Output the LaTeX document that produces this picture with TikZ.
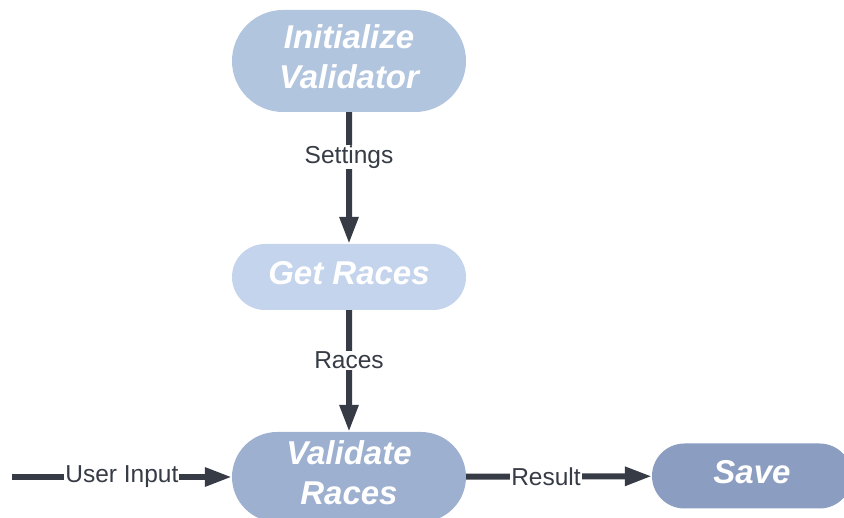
\documentclass[tikz,border=0pt]{standalone}
\usepackage{fontspec}
\setmainfont{Liberation Sans}
\usetikzlibrary{shapes.misc,arrows.meta}

\definecolor{initblue}{HTML}{B2C5DF}
\definecolor{getblue}{HTML}{C4D4EC}
\definecolor{valblue}{HTML}{9EB0CF}
\definecolor{saveblue}{HTML}{8B9DC0}
\definecolor{flowdark}{HTML}{363B45}

\tikzset{
  stepnode/.style={rounded rectangle, draw=none, text=white, align=center,
    minimum width=234pt, inner sep=0pt, text depth=9pt,
    font=\fontsize{33}{40}\selectfont\bfseries\itshape},
  flow/.style={line width=6pt, draw=flowdark,
    -{Triangle[length=27pt,width=18pt]}},
  flowlabel/.style={fill=white, text=flowdark, inner sep=1pt,
    font=\fontsize{24.5}{29}\selectfont}
}

\begin{document}
\begin{tikzpicture}[x=1pt,y=-1pt]
\useasboundingbox (0,0) rectangle (844,518);
\clip (0,0) rectangle (844,518);

\node[stepnode, fill=initblue, minimum height=102pt] (init) at (349,61) {Initialize\\Validator};
\node[stepnode, fill=getblue, minimum height=66pt] (get) at (349,277) {Get Races};
\node[stepnode, fill=valblue, minimum height=90pt] (validate) at (349,477) {Validate\\Races};
\node[stepnode, fill=saveblue, minimum height=65pt, minimum width=200pt] (save) at (752,476) {Save};
\coordinate (user) at (12,477);

\draw[flow] (init) -- node[flowlabel, pos=0.34] (settings) {Settings} (get);
\draw[flow] (get) -- node[flowlabel, pos=0.41] (races) {Races} (validate);
\draw[flow] (user) -- node[flowlabel] (input) {User Input} (validate);
\draw[flow] (validate) -- node[flowlabel, pos=0.43] (result) {Result} (save);
\end{tikzpicture}
\end{document}
